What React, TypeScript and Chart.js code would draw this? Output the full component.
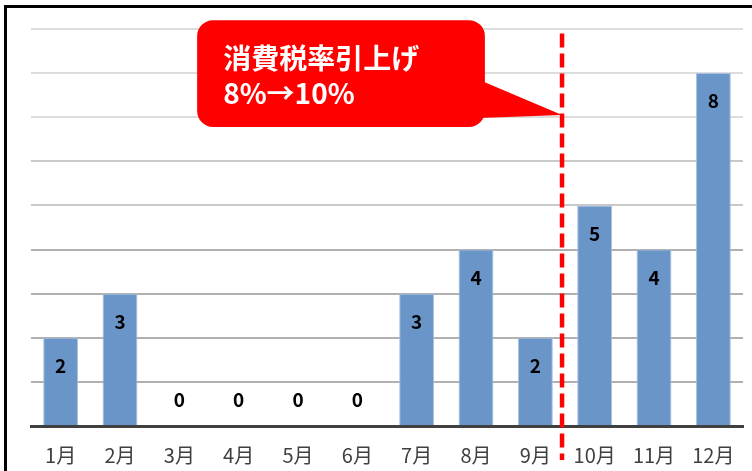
import React, { useEffect, useRef } from "react";
import { Chart, registerables } from "chart.js";

Chart.register(...registerables);

const months = ["1月", "2月", "3月", "4月", "5月", "6月", "7月", "8月", "9月", "10月", "11月", "12月"];
const counts = [2, 3, 0, 0, 0, 0, 3, 4, 2, 5, 4, 8];
const calloutLines = ["消費税率引上げ", "8%→10%"];
const taxChangeIndex = 8.45; // between 9月 and 10月

const FONT = "'Noto Sans CJK JP', 'Noto Sans', sans-serif";

const labelPlugin = {
  id: "barLabels",
  afterDatasetsDraw(chart: any) {
    const ctx = chart.ctx;
    const meta = chart.getDatasetMeta(0);
    const yScale = chart.scales.y;
    ctx.save();
    ctx.fillStyle = "#000000";
    ctx.font = `bold 19px ${FONT}`;
    ctx.textAlign = "center";
    ctx.textBaseline = "middle";
    meta.data.forEach((bar: any, i: number) => {
      const v = counts[i];
      const base = yScale.getPixelForValue(0);
      const y = v > 0 ? bar.y + 28 : base - 26;
      ctx.fillText(String(v), bar.x, y);
    });
    ctx.restore();
  },
};

const annotationPlugin = {
  id: "taxCallout",
  afterDraw(chart: any) {
    const ctx = chart.ctx;
    const xs = chart.scales.x;
    const ys = chart.scales.y;
    const lx = xs.getPixelForValue(taxChangeIndex);
    ctx.save();
    ctx.strokeStyle = "#ff0000";
    ctx.lineWidth = 4.5;
    ctx.setLineDash([14, 6]);
    ctx.beginPath();
    ctx.moveTo(lx, ys.getPixelForValue(8.9));
    ctx.lineTo(lx, ys.getPixelForValue(-0.77));
    ctx.stroke();
    ctx.setLineDash([]);

    const left = xs.getPixelForValue(2.3);
    const right = xs.getPixelForValue(7.15);
    const top = ys.getPixelForValue(9.2);
    const bottom = ys.getPixelForValue(6.78);
    const r = 16;
    ctx.fillStyle = "#ff0000";
    ctx.beginPath();
    ctx.moveTo(left + r, top);
    ctx.lineTo(right - r, top);
    ctx.arcTo(right, top, right, top + r, r);
    ctx.lineTo(right, bottom - r);
    ctx.arcTo(right, bottom, right - r, bottom, r);
    ctx.lineTo(left + r, bottom);
    ctx.arcTo(left, bottom, left, bottom - r, r);
    ctx.lineTo(left, top + r);
    ctx.arcTo(left, top, left + r, top, r);
    ctx.closePath();
    ctx.fill();
    ctx.beginPath();
    ctx.moveTo(right - 6, ys.getPixelForValue(7.85));
    ctx.lineTo(lx, ys.getPixelForValue(7.05));
    ctx.lineTo(right - 6, ys.getPixelForValue(6.98));
    ctx.closePath();
    ctx.fill();

    ctx.fillStyle = "#ffffff";
    ctx.font = `bold 28px ${FONT}`;
    ctx.textAlign = "left";
    ctx.textBaseline = "middle";
    const tx = left + 26;
    ctx.fillText(calloutLines[0], tx, top + 38);
    ctx.fillText(calloutLines[1], tx, top + 73);
    ctx.restore();
  },
};

function gridColor(v: number) {
  if (v <= 0) return "rgba(0,0,0,0)";
  if (v >= 7) return "#dcdcdc";
  if (v >= 5) return "#c9c9c9";
  return "#b0b0b0";
}

export default function App() {
  const ref = useRef<HTMLCanvasElement | null>(null);
  useEffect(() => {
    document.body.style.margin = "0";
    const canvas = ref.current!;
    const chart = new Chart(canvas, {
      type: "bar",
      data: {
        labels: months,
        datasets: [
          {
            data: counts,
            backgroundColor: "#6a95c9",
            borderColor: "#a9c2e2",
            borderWidth: 1,
            barPercentage: 0.59,
            categoryPercentage: 1,
          },
        ],
      },
      options: {
        animation: false,
        responsive: false,
        maintainAspectRatio: false,
        layout: { padding: { left: 31, right: 9, top: 29, bottom: 0 } },
        plugins: { legend: { display: false }, tooltip: { enabled: false } },
        scales: {
          x: {
            grid: { display: false, drawTicks: false },
            border: { display: true, color: "#404040", width: 3 },
            ticks: {
              color: "#404040",
              font: { family: FONT, size: 20 },
              padding: 17,
              maxRotation: 0,
              autoSkip: false,
            },
            afterFit: (scale: any) => {
              scale.height = 45;
            },
          },
          y: {
            min: 0,
            max: 9,
            ticks: { display: false, stepSize: 1 },
            grid: {
              drawTicks: false,
              tickLength: 0,
              lineWidth: 2,
              color: (c: any) => gridColor(c.tick ? c.tick.value : 0),
            },
            border: { display: false },
            afterFit: (scale: any) => {
              scale.width = 0;
            },
          },
        },
      },
      plugins: [labelPlugin, annotationPlugin],
    });
    return () => chart.destroy();
  }, []);
  return (
    <div style={{ position: "relative", width: 752, height: 471, background: "#ffffff", overflow: "hidden" }}>
      <div
        style={{
          position: "absolute",
          left: 4,
          top: 5,
          width: 760,
          height: 480,
          borderTop: "3px solid #000",
          borderLeft: "3px solid #000",
          boxSizing: "border-box",
        }}
      />
      <canvas ref={ref} width={752} height={471} style={{ position: "absolute", left: 0, top: 0 }} />
    </div>
  );
}
